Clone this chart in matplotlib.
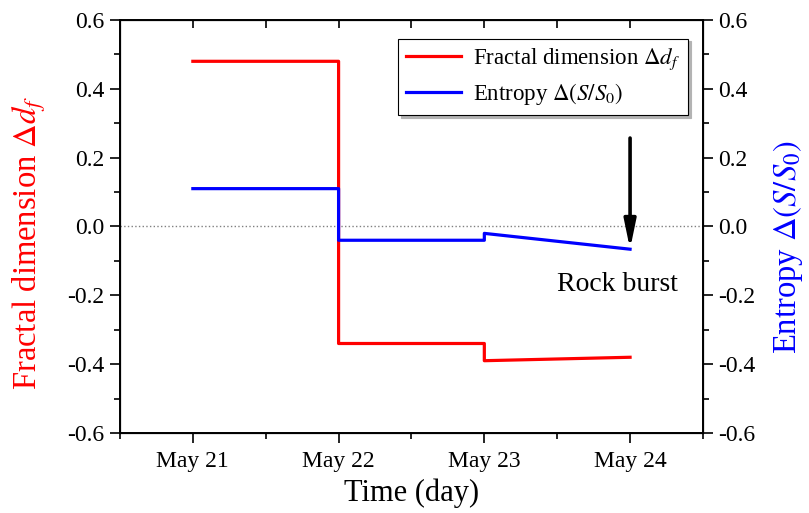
import matplotlib
matplotlib.use("Agg")
import matplotlib.pyplot as plt
import numpy as np

plt.rcParams['font.family'] = ['Liberation Serif', 'DejaVu Serif']
plt.rcParams['mathtext.fontset'] = 'stix'
plt.rcParams['axes.unicode_minus'] = False

# values (day of May)
day_ticks = [21, 22, 23, 24]
day_labels = ['May 21', 'May 22', 'May 23', 'May 24']
fractal_x = [21, 22, 22, 23, 23, 24]
fractal_y = [0.48, 0.48, -0.34, -0.34, -0.39, -0.38]
entropy_x = [21, 22, 22, 23, 23, 24]
entropy_y = [0.11, 0.11, -0.04, -0.04, -0.02, -0.066]
burst_day = 24
arrow_top = 0.257

fig = plt.figure(figsize=(8.09, 5.13), dpi=100)
ax = fig.add_axes([0.1483, 0.156, 0.7206, 0.805])

ax.axhline(0, color='gray', ls=':', lw=1)
l1, = ax.plot(fractal_x, fractal_y, color='red', lw=2.3, label=r'Fractal dimension $\Delta d_f$')
l2, = ax.plot(entropy_x, entropy_y, color='blue', lw=2.3, label=r'Entropy $\Delta(S/S_0)$')

ax.set_xlim(20.5, 24.5)
ax.set_ylim(-0.6, 0.6)
ax.set_xticks(day_ticks)
ax.set_xticklabels(day_labels)
ax.set_xticks(np.arange(20.5, 24.6, 0.5), minor=True)
ax.set_yticks(np.arange(-0.6, 0.61, 0.2))
ax.set_yticks(np.arange(-0.5, 0.51, 0.1), minor=True)
ax.yaxis.set_major_formatter(matplotlib.ticker.FormatStrFormatter('%.1f'))
ax.tick_params(axis='both', which='major', direction='out', length=7, width=1.2, labelsize=17, pad=4)
ax.tick_params(axis='both', which='minor', direction='out', length=4, width=1.2)
ax.tick_params(axis='x', which='major', pad=6)
for s in ax.spines.values():
    s.set_linewidth(1.4)

ax.set_xlabel('Time (day)', fontsize=22, labelpad=5)
ax.set_ylabel(r'Fractal dimension $\Delta d_f$', fontsize=23.5, color='red')
ax.yaxis.set_label_coords(-0.123, 0.46)

# top mirror ticks, pointing inwards
axt = ax.twiny()
axt.set_xlim(ax.get_xlim())
axt.set_xticks(np.arange(21, 24.1, 0.5))
axt.tick_params(axis='x', direction='in', length=6, width=1.2, labeltop=False)

axr = ax.twinx()
axr.set_ylim(-0.6, 0.6)
axr.set_yticks(np.arange(-0.6, 0.61, 0.2))
axr.set_yticks(np.arange(-0.5, 0.51, 0.1), minor=True)
axr.yaxis.set_major_formatter(matplotlib.ticker.FormatStrFormatter('%.1f'))
axr.tick_params(axis='y', which='major', direction='out', length=7, width=1.2, labelsize=17, pad=4)
axr.tick_params(axis='y', which='minor', direction='out', length=4, width=1.2)
axr.set_ylabel(r'Entropy $\Delta(S/S_0)$', fontsize=23.5, color='blue')
axr.yaxis.set_label_coords(1.116, 0.45)

ax.annotate('', xy=(burst_day, entropy_y[-1]), xytext=(burst_day, arrow_top),
            arrowprops=dict(arrowstyle='-|>,head_width=0.35,head_length=1.7',
                            lw=2.6, color='black', shrinkA=0, shrinkB=0))
ax.text(23.91, -0.17, 'Rock burst', fontsize=20, ha='center', va='center')

leg = ax.legend(handles=[l1, l2], loc='upper right', bbox_to_anchor=(0.974, 0.955),
                borderaxespad=0, fontsize=16.5, fancybox=False, edgecolor='black',
                framealpha=1, handlelength=2.4, handletextpad=0.5, labelspacing=0.4,
                borderpad=0.35, shadow={'color': '0.7', 'alpha': 1})
leg.get_frame().set_linewidth(0.8)

fig.savefig('out.png', dpi=100)
